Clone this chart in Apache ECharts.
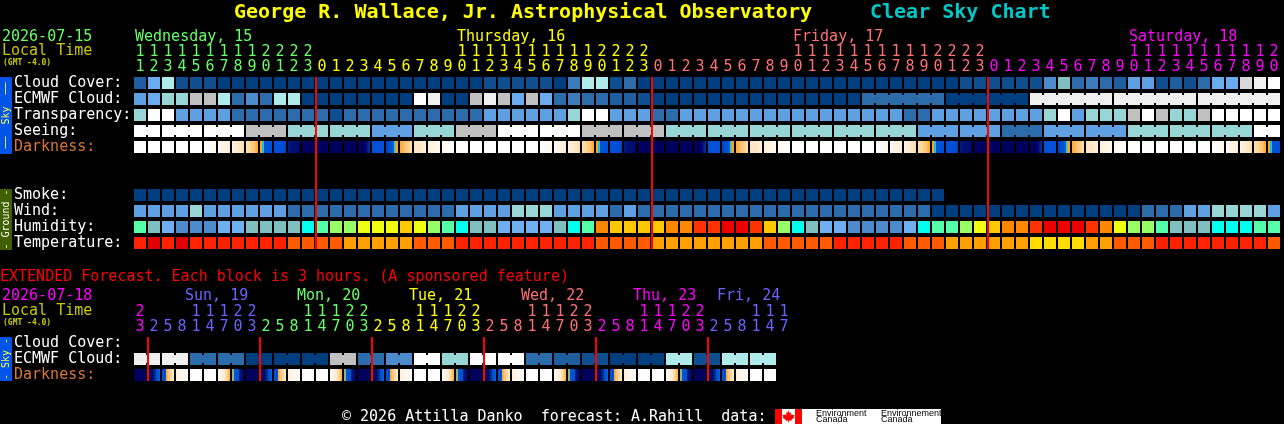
<!DOCTYPE html>
<html><head><meta charset="utf-8">
<style>html,body{margin:0;padding:0;background:#000;overflow:hidden}#c{width:1284px;height:424px}</style>
<script src="https://cdn.jsdelivr.net/npm/echarts@6/dist/echarts.min.js"></script>
</head><body><div id="c"></div>
<script>
// ---------- data ----------
const hours = [11,12,13,14,15,16,17,18,19,20,21,22,23,
 0,1,2,3,4,5,6,7,8,9,10,11,12,13,14,15,16,17,18,19,20,21,22,23,
 0,1,2,3,4,5,6,7,8,9,10,11,12,13,14,15,16,17,18,19,20,21,22,23,
 0,1,2,3,4,5,6,7,8,9,10,11,12,13,14,15,16,17,18,19,20];
const extHours = [23,
 2,5,8,11,14,17,20,23, 2,5,8,11,14,17,20,23, 2,5,8,11,14,17,20,23,
 2,5,8,11,14,17,20,23, 2,5,8,11,14,17,20,23, 2,5,8,11,14,17];
const rows = ['Cloud Cover:','ECMWF Cloud:','Transparency:','Seeing:','Darkness:','','','Smoke:','Wind:','Humidity:','Temperature:'];
const extRows = ['Cloud Cover:','ECMWF Cloud:','Darkness:'];
const dayNames = ['Wednesday, 15','Thursday, 16','Friday, 17','Saturday, 18'];
const dayNameAt = [0,23,47,71];
const extDayNames = ['Sun, 19','Mon, 20','Tue, 21','Wed, 22','Thu, 23','Fri, 24'];
const extDayNameAt = [4,12,20,28,36,42];
const midnights = [13,37,61];
const extMidnights = [1,9,17,25,33,41];

const cloudCover = [2,7,10,1,1,1,
 0,0,0,0,0,0,0,0,0,0,0,0,0,0,0,0,0,0,0,
 1,1,1,1,1,0,4,10,10,1,3,
 0,0,0,0,0,0,0,0,0,0,0,0,0,0,0,0,0,0,0,0,0,0,0,
 1,1,1,1,1,1,
 5,8,3,4,3,2,6,6,1,2,1,3,7,7,12,13,14];
const ecmwf = [6,7,9,9,11,11,10,3,5,3,10,10,
 0,0,0,0,0,0,0,0,14,13,0,0,
 11,13,11,7,11,7,3,4,3,3,2,2,1,
 0,0,0,0,0,0,0,0,0,0,0,0,0,0,0,
 3,3,3,3,3,3,0,0,0,0,0,0,
 13,13,13,13,13,13,13,13,13,13,13,13,13,13,13,13,13,13];
const ecmwfSpans = [52,6,6,6,6,6]; // first value: number of unjoined cells
const transparency = [9,14,14,6,6,6,6,3,3,3,3,3,3,3,1,3,3,3,3,3,3,3,3,3,3,
 6,6,6,6,6,6,9,14,14,6,6,6,3,3,
 6,6,6,6,6,6,6,6,6,6,6,6,6,6,6,6,3,3,
 6,6,6,6,6,6,6,6,9,14,6,9,9,9,11,14,11,9,9,11,14,14,14,14,14];
const seeingBlocks = [14,14,14,11,9,9,6,9,11,14,14,11,11,9,9,9,9,9,9,6,6,3,6,6,9,9,9,14];
const seeingSizes  = [2,3,3,3,3,3,3,3,3,3,3,3,3,3,3,3,3,3,3,3,3,3,3,3,3,3,3,2];
const darkness = [0,0,0,0,0,1,2,3,4,5,6,7,8,8,8,8,9,10,11,12,13,14,15,
 0,0,0,0,0,0,1,2,3,4,5,6,7,8,8,8,8,9,10,11,12,13,14,15,
 0,0,0,0,0,0,1,2,3,4,5,6,7,8,8,8,8,9,10,11,12,13,14,15,
 0,0,0,0,0,0,1,2,3,4,5];
const smoke = [0,0,0,0,0,0,0,0,0,0,0,0,0,0,0,0,0,0,0,0,0,0,0,0,0,0,0,0,0,
 0,0,0,0,0,0,0,0,0,0,0,0,0,0,0,0,0,0,0,0,0,0,0,0,0,0,0,0,0];
const wind = [6,6,6,6,9,6,6,6,6,6,6,3,3,3,3,3,3,3,3,3,3,3,3,6,6,6,6,9,9,9,6,6,6,6,3,6,
 3,3,3,3,3,3,3,3,3,3,3,3,3,3,3,3,3,3,3,3,3,
 0,0,0,0,0,0,0,0,0,0,0,0,0,0,0,3,3,3,6,6,9,9,9,9,6];
const humidity = [4,2,1,0,0,0,1,1,2,2,2,2,3,4,5,5,6,6,6,7,6,
 5,4,3,2,2,1,1,1,1,2,3,4,8,7,7,7,7,8,8,9,9,10,10,9,7,5,3,2,1,1,0,
 0,0,0,1,3,4,4,5,6,7,8,8,9,10,10,10,9,8,6,5,5,4,2,2,2,3,3,3,4,4];
const temperature = [1,0,1,0,1,1,1,1,1,1,1,2,2,2,2,3,3,3,3,3,2,
 2,2,1,1,1,1,1,1,1,1,1,1,2,2,2,2,3,3,3,3,3,3,3,3,2,2,2,2,2,1,1,
 1,1,1,2,2,2,3,3,3,3,3,3,4,4,4,4,3,3,2,2,2,1,1,1,1,1,1,1,1,2];
const extEcmwfBlocks = [13,13,3,3,0,0,0,11,3,5,14,9,14,14,3,2,1,0,0,10,1,10,10];
const extDarkness = [16,17,18,19,0,0,20,21, 16,17,18,19,0,0,20,21, 16,17,18,19,0,0,20,21,
 16,17,18,19,0,0,20,21, 16,17,18,19,0,0,20,21, 16,17,18,19,0,0];

// ---------- styles ----------
const MONO = '"DejaVu Sans Mono", monospace';
const skyColors = ['#003f7f','#0f4f8f','#1f5f9f','#2c6cab','#3c7cbc','#4c8ccc','#5fa0e3','#6aaaee',
  '#7fbfbf','#98d5d5','#afebeb','#c0c0c0','#d8d8d8','#f0f0f0','#ffffff'];
const humColors = ['#4c8ccc','#6eb0f2','#80bfbf','#00ffee','#55ffaa','#99ff66','#eeff11','#ffc800','#ff8800','#ff3300','#ee0000'];
const tempColors = ['#e00000','#ff2200','#ff5a00','#ff9f00','#ffdd00'];
const grad = stops => new echarts.graphic.LinearGradient(0,0,1,0,stops.map(s=>({offset:s[0],color:s[1]})));
const B='#0050d8', N='#00005f', O='#ffa020';
const darkColors = [
 '#ffffff',
 grad([[0,'#ffffff'],[1,'#fff6ec']]),
 grad([[0,'#fff9f2'],[1,'#ffeed8']]),
 grad([[0,'#fff3e2'],[1,'#ffdfb4']]),
 grad([[0,'#ffe2b8'],[.7,'#ffc46e'],[1,O]]),
 grad([[0,O],[.16,O],[.17,'#10c8f0'],[.33,'#10c8f0'],[.34,B],[1,B]]),
 grad([[0,B],[.6,B],[1,'#0044c0']]),
 grad([[0,'#001c80'],[.3,'#00107a'],[1,'#000a68']]),
 N,
 grad([[0,N],[.6,N],[.75,'#001878'],[1,'#0030a0']]),
 B,
 grad([[0,'#0040c0'],[.5,'#0058dc'],[.66,'#0070e0'],[.67,'#30b0c0'],[.83,'#a0c070'],[.84,O],[1,O]]),
 grad([[0,'#ffa838'],[1,'#ffe0b4']]),
 grad([[0,'#ffe4c0'],[1,'#fff0dc']]),
 grad([[0,'#fff0dc'],[1,'#fff8ee']]),
 grad([[0,'#fff8f0'],[1,'#ffffff']]),
 '#00005f',
 grad([[0,N],[.4,N],[.41,'#001880'],[.65,'#002ea0'],[.66,'#0050c8'],[1,'#0060d8']]),
 grad([[0,'#0050d0'],[.3,'#0050d0'],[.33,O],[.55,'#ffc878'],[1,'#ffeed8']]),
 grad([[0,'#ffefdc'],[1,'#ffffff']]),
 grad([[0,'#ffffff'],[.6,'#ffe6c4'],[1,'#ffb040']]),
 grad([[0,'#a0b070'],[.14,'#a0b070'],[.15,'#0058d8'],[.6,'#0050d0'],[.61,'#001880'],[1,N]])
];
const GREEN='#66ff66', YEL='#ffff00', SAL='#ff7070', MAG='#ff00ff', BLU='#6666ff';
const dayColors=[GREEN,YEL,SAL,MAG];
const extDayColors=[MAG,BLU,GREEN,YEL,SAL,MAG,BLU];

// ---------- helpers ----------
const dayIndex = list => { let d=0; return list.map((h,i)=>{ if(i&&h<list[i-1]) d++; return d; }); };
const mainDay = dayIndex(hours), extDay = dayIndex(extHours);
const expand = (blocks,sizes)=>blocks.flatMap((v,i)=>Array(sizes[i]).fill(v));
const endsOf = sizes => { const s=new Set(); let t=0; sizes.forEach(n=>{t+=n;s.add(t-1)}); return s; };

function rowSeries(axis,row,values,colors,sizes){
  const ends = sizes ? endsOf(sizes) : null;
  return {
    type:'custom', coordinateSystem:'cartesian2d', xAxisIndex:axis*2, yAxisIndex:axis, silent:true, z:2,
    data: values.map((v,i)=>[i,row,v]),
    renderItem(params,api){
      const c=api.coord([api.value(0),api.value(1)]), sz=api.size([1,1]);
      const w=sz[0]-2, h=sz[1]-4, x=c[0]-w/2, y=c[1]-h/2, fill=colors[api.value(2)];
      const kids=[{type:'rect',shape:{x,y,width:w,height:h},style:{fill}}];
      if(ends && !ends.has(api.value(0)) )
        kids.push({type:'rect',shape:{x:x+w,y:y+2,width:2,height:h-4},style:{fill}});
      return {type:'group',children:kids};
    }
  };
}
function redLines(axis,list,first,last){
  return {
    type:'custom', coordinateSystem:'cartesian2d', xAxisIndex:axis*2, yAxisIndex:axis, silent:true, z:5,
    data:list.map(i=>[i]),
    renderItem(params,api){
      const a=api.coord([api.value(0),first]), b=api.coord([api.value(0),last]), sz=api.size([1,1]);
      return {type:'rect',shape:{x:a[0]-sz[0]/2,y:a[1]-sz[1]/2+2,width:2,height:b[1]-a[1]+sz[1]-4},style:{fill:'#ff0000'}};
    }
  };
}
const xAxis=(gridIndex,labels,colorOf,offset)=>({
  type:'category',gridIndex,position:'top',offset,data:labels,boundaryGap:true,
  axisLine:{show:false},axisTick:{show:false},splitLine:{show:false},
  axisLabel:{show:true,interval:0,margin:0,hideOverlap:false,fontFamily:MONO,fontSize:15,
    color:(v,i)=>colorOf(i),verticalAlign:'bottom',lineHeight:15}
});
const yAxis=(gridIndex,labels)=>({
  type:'category',gridIndex,inverse:true,data:labels,
  axisLine:{show:false},axisTick:{show:false},splitLine:{show:false},
  axisLabel:{show:true,interval:0,margin:119,align:'left',fontFamily:MONO,fontSize:15,hideOverlap:false,
    color:v=>v==='Darkness:'?'#d87838':'#ffffff',verticalAlign:'middle',padding:[0,0,5,0]}
});
const units=h=>String(h%10), tens=h=>h>=10?String(Math.floor(h/10)):'';

const CELL=14, LEFT=133;
const text=(x,y,t,fill,size,extra)=>({type:'text',x,y,silent:true,z:10,
  style:Object.assign({text:t,fill,font:`${size}px ${MONO}`,verticalAlign:'middle',align:'left'},extra||{})});
const bar=(y,h,fill,t,tc)=>[
  {type:'rect',silent:true,z:9,shape:{x:0,y,width:12,height:h},style:{fill}},
  {type:'text',silent:true,z:10,x:6,y:y+h/2,rotation:Math.PI/2,
   style:{text:t,fill:tc,font:`10px ${MONO}`,align:'center',verticalAlign:'middle'}}
];
const leaf=[[0,-6],[1.2,-3.6],[2.6,-4.2],[2,-1],[3.6,-2.4],[4,-1.4],[6,-1.8],[5.2,.4],[6,1],[2.6,3.4],[3,4.6],[.4,4],[.4,6],[-.4,6],[-.4,4],[-3,4.6],[-2.6,3.4],[-6,1],[-5.2,.4],[-6,-1.8],[-4,-1.4],[-3.6,-2.4],[-2,-1],[-2.6,-4.2],[-1.2,-3.6]];

const graphics=[
  text(2,37,'2026-07-15',GREEN,15), text(2,51.5,'Local Time','#c8c800',15),
  text(3,63,'(GMT -4.0)','#c8c800',8,{font:`bold 8px ${MONO}`}),
  ...dayNames.map((t,i)=>text(LEFT+2+dayNameAt[i]*CELL,37,t,dayColors[i],15)),
  text(0,277,'EXTENDED Forecast. Each block is 3 hours. (A sponsored feature)','#ff0000',15),
  text(2,296.5,'2026-07-18',MAG,15), text(2,311.5,'Local Time','#c8c800',15),
  text(3,323,'(GMT -4.0)','#c8c800',8,{font:`bold 8px ${MONO}`}),
  ...extDayNames.map((t,i)=>text(LEFT-4+extDayNameAt[i]*CELL,296.5,t,extDayColors[i+1],15)),
  ...bar(77,77,'#0055e8','──  Sky  ──','#ffff40'),
  ...bar(189,61,'#3f6000','- Ground -','#ffffff'),
  ...bar(337,44,'#0055e8','- Sky -','#ffff40'),
  text(342,417,'© 2026 Attilla Danko  forecast: A.Rahill  data:','#ffffff',15),
  {type:'rect',silent:true,z:9,shape:{x:775,y:409,width:166,height:15},style:{fill:'#fff'}},
  {type:'rect',silent:true,z:10,shape:{x:775,y:409,width:7,height:15},style:{fill:'#ff0000'}},
  {type:'rect',silent:true,z:10,shape:{x:795,y:409,width:7,height:15},style:{fill:'#ff0000'}},
  {type:'polygon',silent:true,z:10,x:788.5,y:416.5,shape:{points:leaf},style:{fill:'#ff0000'}},
  text(816,413.5,'Environment','#000',9,{font:'9px "Liberation Sans"'}),
  text(816,420,'Canada','#000',9,{font:'9px "Liberation Sans"'}),
  text(881,413.5,'Environnement','#000',9,{font:'9px "Liberation Sans"'}),
  text(881,420,'Canada','#000',9,{font:'9px "Liberation Sans"'})
];

const chart=echarts.init(document.getElementById('c'),null,{renderer:'canvas',width:1284,height:424});
chart.setOption({
  backgroundColor:'#000000',animation:false,
  title:[
    {text:'George R. Wallace, Jr. Astrophysical Observatory',left:234,top:1,padding:0,
     textStyle:{color:'#ffff00',fontFamily:MONO,fontWeight:'bold',fontSize:20,lineHeight:24}},
    {text:'Clear Sky Chart',left:870,top:1,padding:0,
     textStyle:{color:'#00c8c8',fontFamily:MONO,fontWeight:'bold',fontSize:20,lineHeight:24}}
  ],
  grid:[
    {left:LEFT,top:75,width:hours.length*CELL,height:rows.length*16},
    {left:LEFT,top:335,width:extHours.length*CELL,height:extRows.length*16}
  ],
  xAxis:[
    xAxis(0,hours.map(units),i=>dayColors[mainDay[i]],0),
    xAxis(0,hours.map(tens),i=>dayColors[mainDay[i]],15),
    xAxis(1,extHours.map(units),i=>extDayColors[extDay[i]],0),
    xAxis(1,extHours.map(tens),i=>extDayColors[extDay[i]],15)
  ],
  yAxis:[yAxis(0,rows),yAxis(1,extRows)],
  series:[
    rowSeries(0,0,cloudCover,skyColors),
    rowSeries(0,1,ecmwf,skyColors,[...Array(ecmwfSpans[0]).fill(1),...ecmwfSpans.slice(1)]),
    rowSeries(0,2,transparency,skyColors),
    rowSeries(0,3,expand(seeingBlocks,seeingSizes),skyColors,seeingSizes),
    rowSeries(0,4,darkness,darkColors),
    rowSeries(0,7,smoke,skyColors),
    rowSeries(0,8,wind,skyColors),
    rowSeries(0,9,humidity,humColors),
    rowSeries(0,10,temperature,tempColors),
    redLines(0,midnights,0,10),
    rowSeries(1,1,expand(extEcmwfBlocks,extEcmwfBlocks.map(()=>2)),skyColors,extEcmwfBlocks.map(()=>2)),
    rowSeries(1,2,extDarkness,darkColors),
    redLines(1,extMidnights,0,2)
  ],
  graphic:{elements:graphics}
});
</script></body></html>
